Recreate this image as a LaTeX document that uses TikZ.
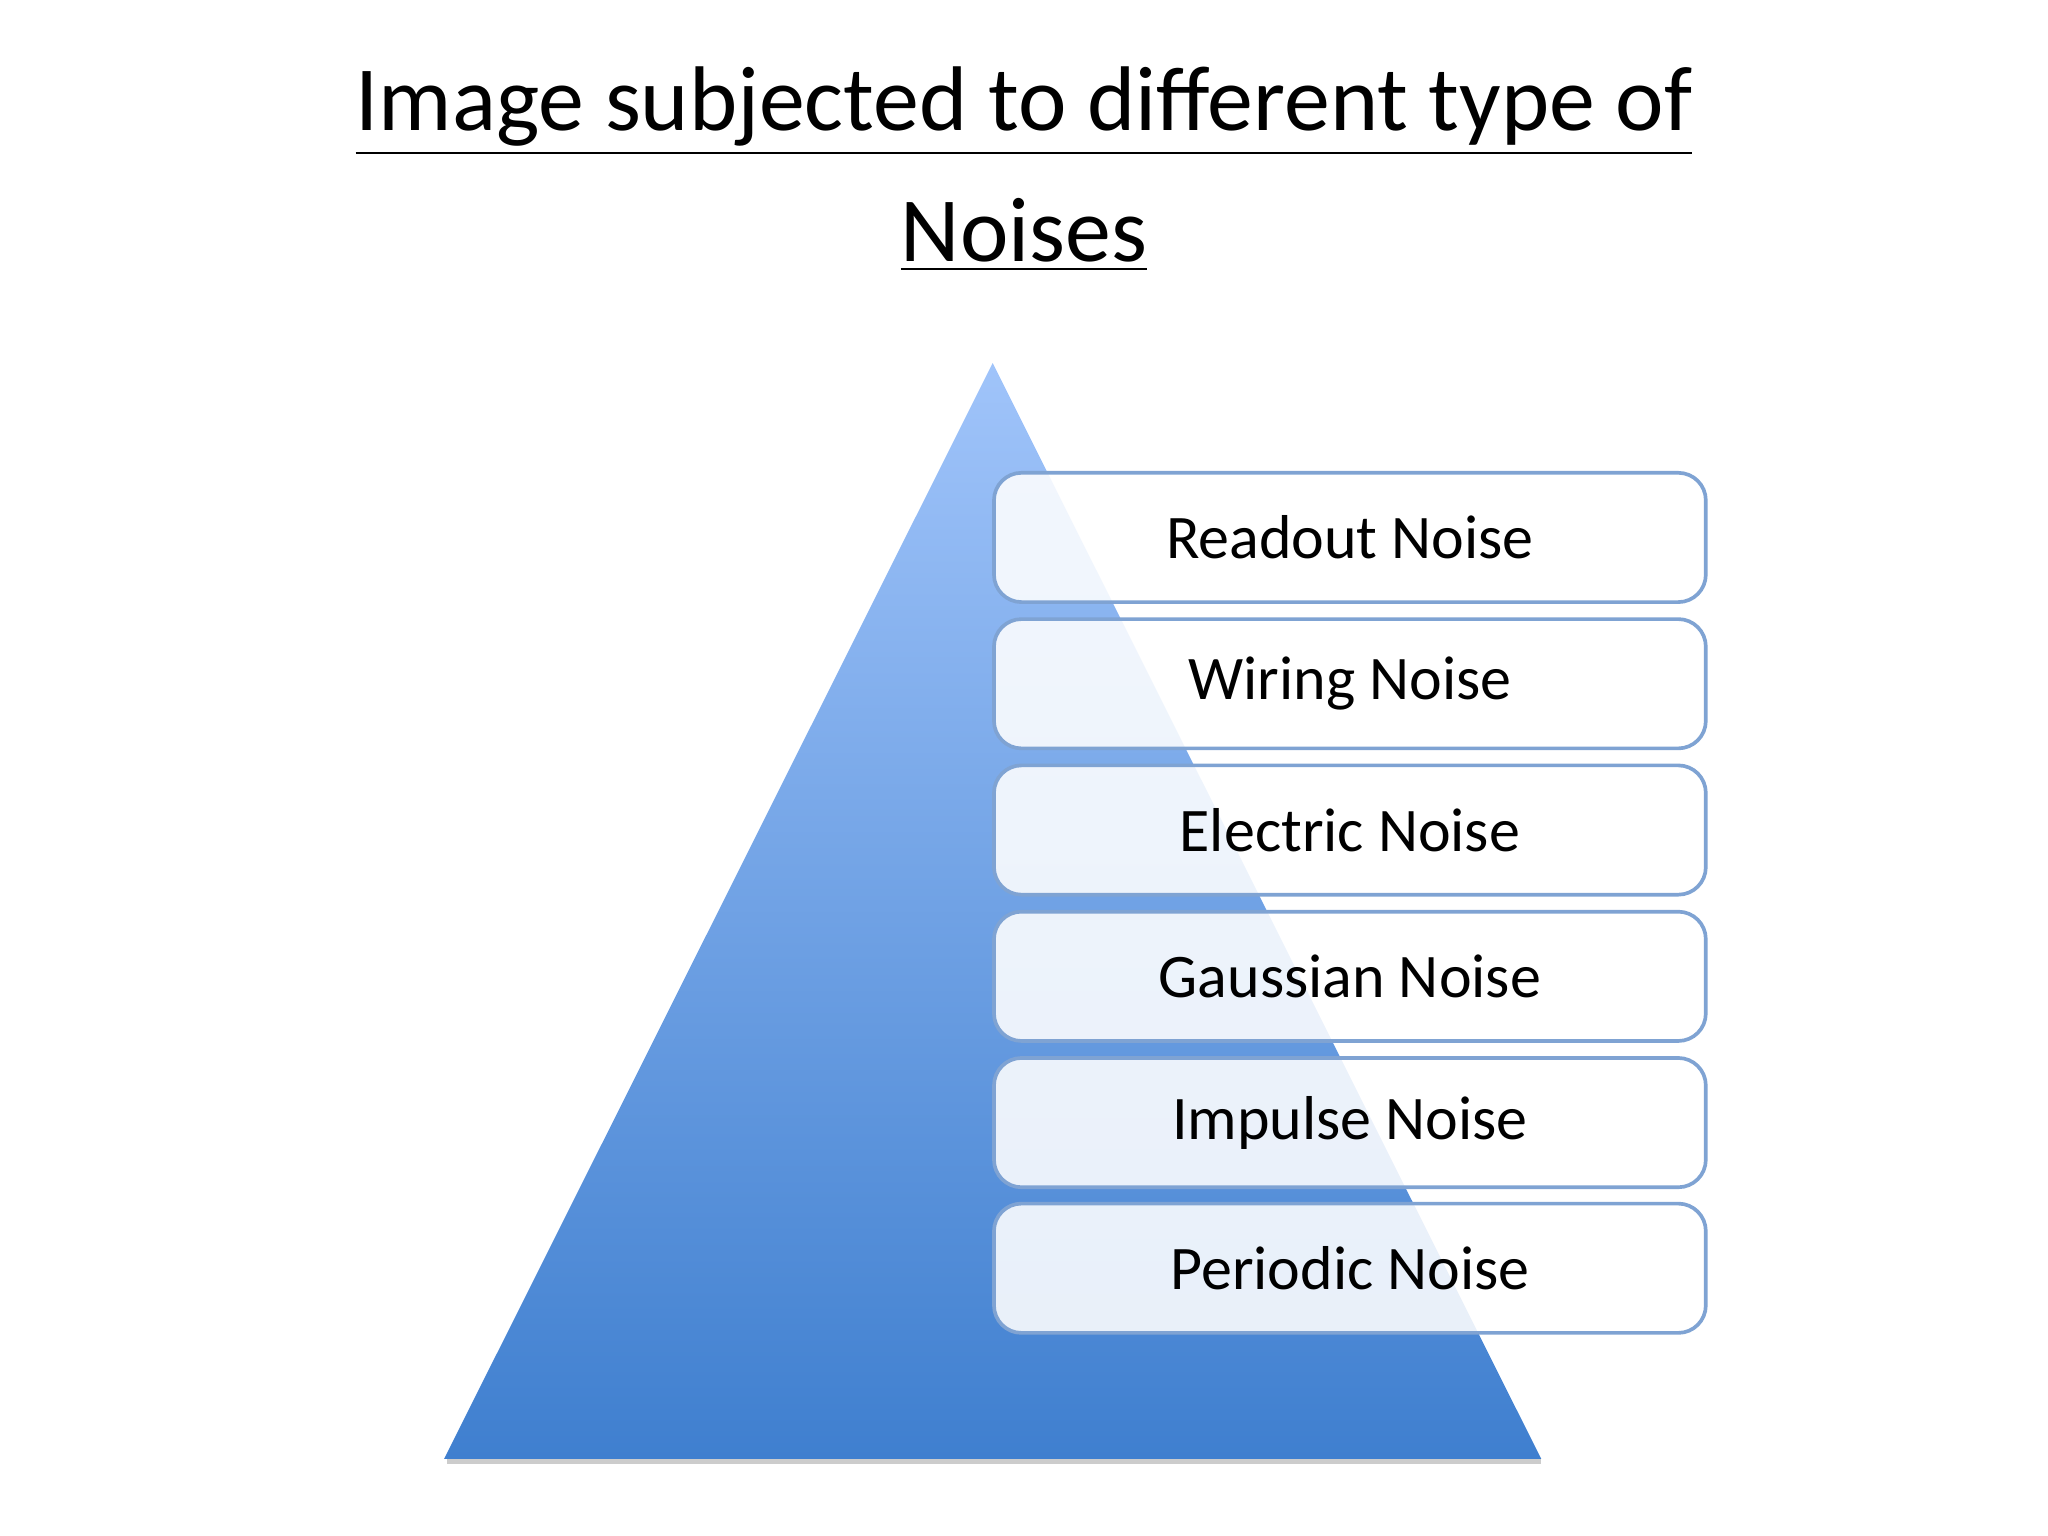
\documentclass[tikz,border=0pt]{standalone}
\usepackage{fontspec}
\setmainfont{Carlito}
\usetikzlibrary{shadings}
\definecolor{topb}{HTML}{A0C4FA}
\definecolor{botb}{HTML}{3F7FCF}
\definecolor{edgeb}{HTML}{7FA3D3}
\tikzset{noisebox/.style={draw=edgeb,line width=0.8pt,rounded corners=6pt,fill=white,fill opacity=0.88,text opacity=1,minimum width=5.45cm,minimum height=0.99cm,font=\fontsize{13.5}{16}\selectfont}}
\begin{document}
\begin{tikzpicture}
\useasboundingbox (0,0) rectangle (15.68,-11.76);
\node (t1) at (7.84,-0.85) {\fontsize{20}{24}\selectfont\underline{Image subjected to different type of}};
\node (t2) at (7.84,-1.8) {\fontsize{20}{24}\selectfont\underline{Noises}};
\fill[gray!40] (3.42,-11.17) -- (11.8,-11.17) -- (11.8,-11.21) -- (3.42,-11.21) -- cycle;
\shade[top color=topb,bottom color=botb] (7.6,-2.78) -- (3.4,-11.17) -- (11.8,-11.17) -- cycle;
\foreach \n/\t/\y in {a/Readout Noise/4.115, b/Wiring Noise/5.235, c/Electric Noise/6.355, d/Gaussian Noise/7.475, e/Impulse Noise/8.595, f/Periodic Noise/9.71}{
  \node[noisebox] (\n) at (10.335,-\y) {\t};
}
\end{tikzpicture}
\end{document}
